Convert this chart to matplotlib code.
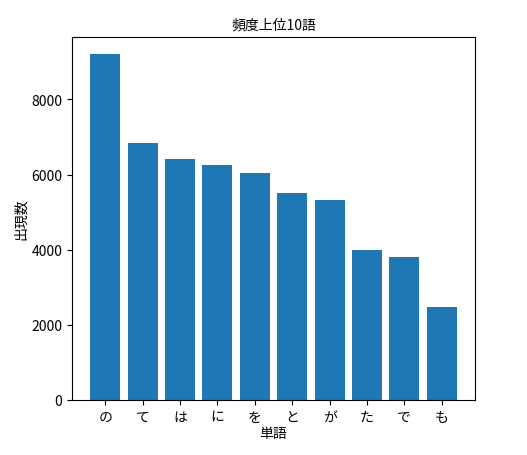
import matplotlib
matplotlib.use('Agg')
import matplotlib.pyplot as plt

plt.rcParams['font.family'] = ['Noto Sans CJK JP', 'DejaVu Sans']

words = ['の', 'て', 'は', 'に', 'を', 'と', 'が', 'た', 'で', 'も']
counts = [9200, 6850, 6420, 6250, 6050, 5500, 5330, 3980, 3800, 2470]

fig = plt.figure(figsize=(5.27, 4.56), dpi=100)
ax = fig.add_axes([72/527, 55/456, 403/527, 363/456])
ax.bar(words, counts, color='#1f77b4')
ax.set_title('頻度上位10語', fontsize=10)
ax.set_xlabel('単語', fontsize=10, labelpad=2)
ax.set_ylabel('出現数', fontsize=10, labelpad=2)
ax.tick_params(labelsize=10)

fig.savefig('out.png', dpi=100)
